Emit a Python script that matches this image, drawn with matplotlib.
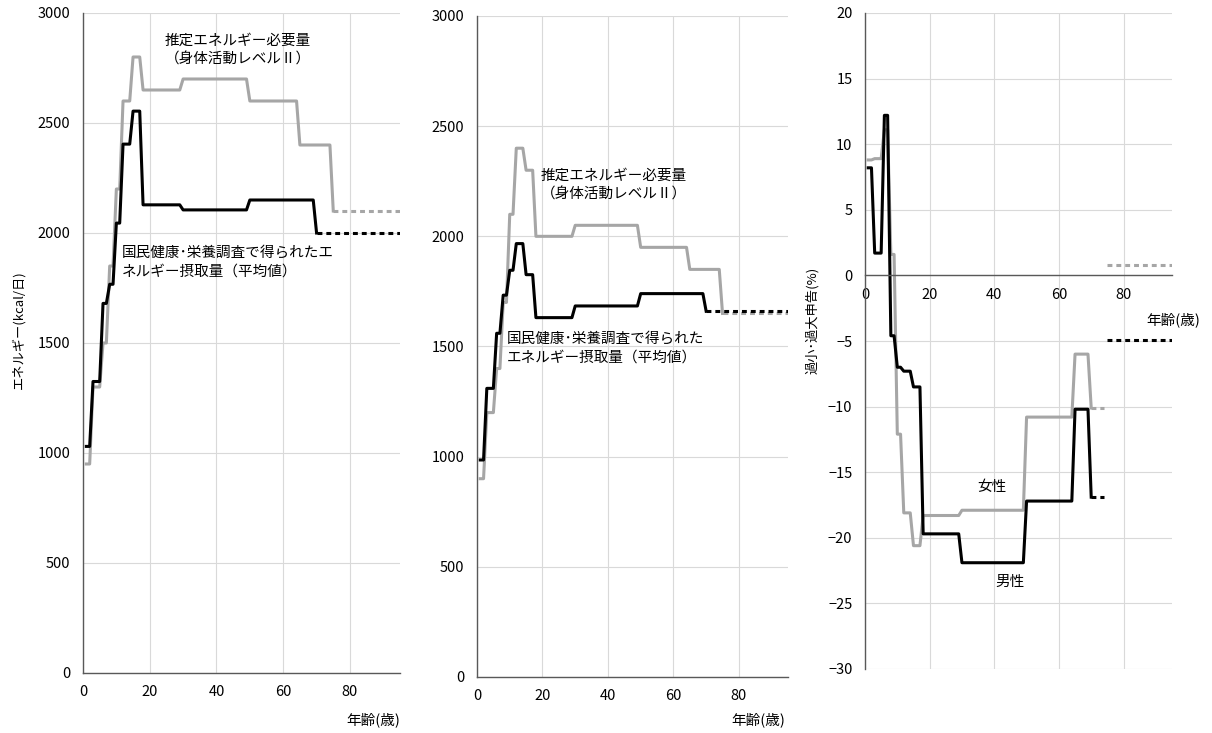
import matplotlib
matplotlib.use("Agg")
import matplotlib.pyplot as plt

plt.rcParams["font.family"] = ["Noto Sans CJK JP", "DejaVu Sans"]

# age groups (years) and values
eer_age_start = [1, 3, 6, 8, 10, 12, 15, 18, 30, 50, 65]
eer_age_end = [2, 5, 7, 9, 11, 14, 17, 29, 49, 64, 74]
male_eer = [950, 1300, 1500, 1850, 2200, 2600, 2800, 2650, 2700, 2600, 2400]
female_eer = [900, 1200, 1400, 1700, 2100, 2400, 2300, 2000, 2050, 1950, 1850]
eer_tail_ages = [75, 95]
male_eer_75 = 2100
female_eer_75 = 1650

intake_age_start = [1, 3, 6, 8, 10, 12, 15, 18, 30, 50]
intake_age_end = [2, 5, 7, 9, 11, 14, 17, 29, 49, 69]
male_intake = [1030, 1325, 1680, 1767, 2045, 2404, 2554, 2128, 2105, 2150]
female_intake = [985, 1310, 1560, 1733, 1846, 1967, 1826, 1631, 1684, 1740]
intake_tail_ages = [70, 95]
male_intake_70 = 2000
female_intake_70 = 1660

pct_age_start = [1, 3, 6, 8, 10, 12, 15, 18, 30, 50, 65]
pct_age_end = [2, 5, 7, 9, 11, 14, 17, 29, 49, 64, 69]
male_pct = [8.2, 1.7, 12.2, -4.6, -7.0, -7.3, -8.5, -19.7, -21.9, -17.2, -10.2]
female_pct = [8.8, 8.9, 11.1, 1.6, -12.1, -18.1, -20.6, -18.3, -17.9, -10.8, -6.0]
pct_tail1_ages = [70, 74]
pct_tail2_ages = [75, 95]
male_pct_70, male_pct_75 = -16.9, -4.9
female_pct_70, female_pct_75 = -10.1, 0.8

GRAY = "#a6a6a6"
BLACK = "#000000"
LW = 2.2
DASH = (0, (1.6, 1.3))
FS = 10.5

W, H = 1212, 733
fig = plt.figure(figsize=(W / 100, H / 100), dpi=100)


def px_axes(left, right, top, bottom):
    return fig.add_axes([left / W, 1 - bottom / H, (right - left) / W, (bottom - top) / H])


def steps(starts, ends, vals):
    xs, ys = [], []
    for a, b, v in zip(starts, ends, vals):
        xs += [a, b]
        ys += [v, v]
    return xs, ys


def style(ax, ymin, ymax, ystep):
    ax.set_xlim(0, 95)
    ax.set_ylim(ymin, ymax)
    ax.set_xticks([0, 20, 40, 60, 80])
    ax.set_yticks(range(ymin, ymax + 1, ystep))
    ax.grid(True, color="#d9d9d9", lw=0.8)
    ax.set_axisbelow(True)
    for s in ["top", "right"]:
        ax.spines[s].set_visible(False)
    for s in ["left", "bottom"]:
        ax.spines[s].set_color("#595959")
        ax.spines[s].set_linewidth(1.0)
    ax.tick_params(length=0, labelsize=FS, colors="#000000")
    ax.tick_params(axis="y", pad=9)
    ax.tick_params(axis="x", pad=9)


def energy_panel(ax, eer, eer_75, intake, intake_70):
    x, y = steps(eer_age_start, eer_age_end, eer)
    ax.plot(x + [eer_tail_ages[0]], y + [eer_75], color=GRAY, lw=LW)
    ax.plot(eer_tail_ages, [eer_75] * 2, color=GRAY, lw=LW, ls=DASH)
    x, y = steps(intake_age_start, intake_age_end, intake)
    ax.plot(x + [intake_tail_ages[0]], y + [intake_70], color=BLACK, lw=LW)
    ax.plot(intake_tail_ages, [intake_70] * 2, color=BLACK, lw=LW, ls=DASH)
    style(ax, 0, 3000, 500)


txt = dict(fontsize=FS, va="center", ha="left", multialignment="left", linespacing=1.45)

# panel 1: male
ax1 = px_axes(83, 400, 13, 673)
energy_panel(ax1, male_eer, male_eer_75, male_intake, male_intake_70)
ax1.text(24.5, 2832, "推定エネルギー必要量\n（身体活動レベルⅡ）", **txt)
ax1.text(11.5, 1868, "国民健康･栄養調査で得られたエ\nネルギー摂取量（平均値）", **txt)
ax1.set_ylabel("エネルギー(kcal/日)", fontsize=9.5)
ax1.yaxis.set_label_coords(-0.183, 0.52)
fig.text(373 / W, 1 - 720 / H, "年齢(歳)", fontsize=FS, ha="center", va="center")

# panel 2: female
ax2 = px_axes(477, 788, 16, 677)
energy_panel(ax2, female_eer, female_eer_75, female_intake, female_intake_70)
ax2.text(19.5, 2233, "推定エネルギー必要量\n（身体活動レベルⅡ）", **txt)
ax2.text(9, 1493, "国民健康･栄養調査で得られた\nエネルギー摂取量（平均値）", **txt)
fig.text(758 / W, 1 - 720 / H, "年齢(歳)", fontsize=FS, ha="center", va="center")

# panel 3: under/over reporting (%)
ax3 = px_axes(865, 1172, 13, 669)
for vals, v70, v75, col in [(female_pct, female_pct_70, female_pct_75, GRAY),
                            (male_pct, male_pct_70, male_pct_75, BLACK)]:
    x, y = steps(pct_age_start, pct_age_end, vals)
    ax3.plot(x + [pct_tail1_ages[0]], y + [v70], color=col, lw=LW)
    ax3.plot(pct_tail1_ages, [v70] * 2, color=col, lw=LW, ls=DASH)
    ax3.plot(pct_tail2_ages, [v75] * 2, color=col, lw=LW, ls=DASH)
style(ax3, -30, 20, 5)
ax3.spines["bottom"].set_position(("data", 0))
ax3.text(34.6, -16.1, "女性", fontsize=FS, ha="left", va="center")
ax3.text(40.2, -23.4, "男性", fontsize=FS, ha="left", va="center")
ax3.text(95.5, -3.4, "年齢(歳)", fontsize=FS, ha="center", va="center", clip_on=False)
ax3.set_ylabel("過小･過大申告(%)", fontsize=9.5)
ax3.yaxis.set_label_coords(-0.150, 0.532)

fig.savefig("out.png", dpi=100)
